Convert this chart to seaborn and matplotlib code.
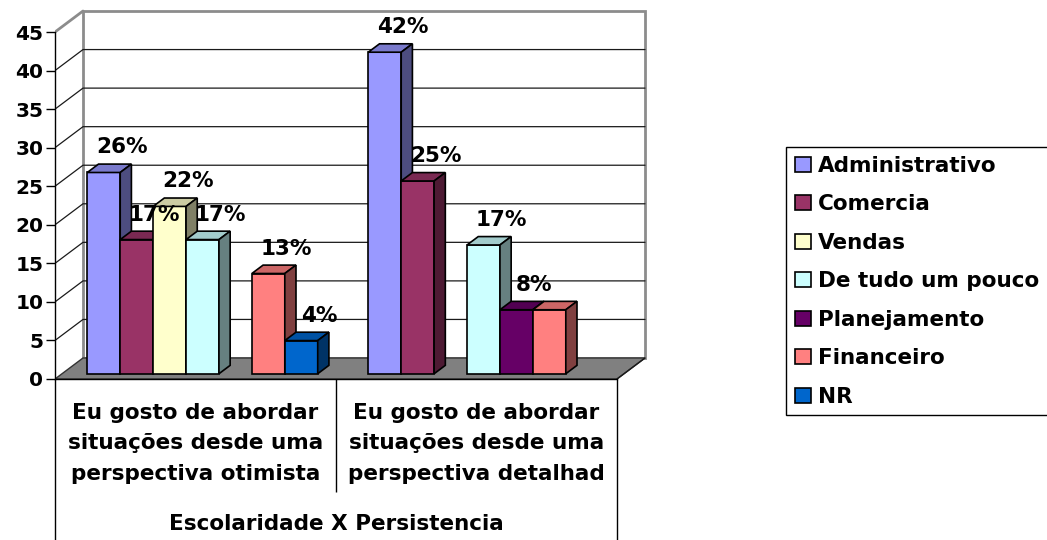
import numpy as np
import pandas as pd
import matplotlib
matplotlib.use("Agg")
import matplotlib.pyplot as plt
import seaborn as sns
from matplotlib.patches import Polygon

# ---------------- data ----------------
groups = [
    "Eu gosto de abordar\nsituações desde uma\nperspectiva otimista",
    "Eu gosto de abordar\nsituações desde uma\nperspectiva detalhad",
]
areas = ["Administrativo", "Comercia", "Vendas", "De tudo um pouco",
         "Planejamento", "Financeiro", "NR"]
values_otimista = [26.1, 17.4, 21.7, 17.4, 0.0, 13.0, 4.3]
values_detalhad = [41.7, 25.0, 0.0, 16.7, 8.3, 8.3, 0.0]
labels_otimista = ["26%", "17%", "22%", "17%", "", "13%", "4%"]
labels_detalhad = ["42%", "25%", "", "17%", "8%", "", ""]
colors = ["#9999FF", "#993366", "#FFFFCC", "#CCFFFF", "#660066", "#FF8080", "#0066CC"]
y_ticks = [0, 5, 10, 15, 20, 25, 30, 35, 40, 45]
axis_title = "Escolaridade X Persistencia"

rows = []
for g, vals, labs in [(groups[0], values_otimista, labels_otimista),
                      (groups[1], values_detalhad, labels_detalhad)]:
    for a, v, l in zip(areas, vals, labs):
        if v > 0:
            rows.append({"grupo": g, "area": a, "valor": v, "rotulo": l})
df = pd.DataFrame(rows)

# ---------------- layout constants ----------------
W, H, DPI = 1047, 540, 100
PX_X = 281.0      # pixels per category unit
PX_Y = 7.711      # pixels per value unit
AX_L, AX_R, AX_B, AX_T = 55, 655, 379, 5
DEPTH_PX = (28, 21)
DX = DEPTH_PX[0] / PX_X
DY = DEPTH_PX[1] / PX_Y
BAR_FRONT = 0.25   # depth fraction of bar front face
BAR_DEPTH = 0.40   # depth fraction of bar thickness
BAR_WIDTH = 0.82
FS = 15.5

sns.set_theme(style="white")
plt.rcParams["font.family"] = ["DejaVu Sans"]
plt.rcParams["font.weight"] = "bold"
for k in ["text.color", "axes.labelcolor", "xtick.color", "ytick.color",
          "xtick.labelcolor", "ytick.labelcolor"]:
    plt.rcParams[k] = "black"

fig = plt.figure(figsize=(W / DPI, H / DPI), dpi=DPI)
ax = fig.add_axes([AX_L / W, (H - AX_B) / H, (AX_R - AX_L) / W, (AX_B - AX_T) / H])
ax.set_facecolor("none")

n_groups = len(groups)
x0, x1 = -0.5, n_groups - 0.5
ymax = max(y_ticks)

# ---- walls ----
back = Polygon([(x0 + DX, DY), (x1 + DX, DY), (x1 + DX, ymax + DY), (x0 + DX, ymax + DY)],
               closed=True, facecolor="white", edgecolor="#8c8c8c", lw=2, zorder=0.5)
ax.add_patch(back)
left = Polygon([(x0, 0), (x0 + DX, DY), (x0 + DX, ymax + DY), (x0, ymax)],
               closed=True, facecolor="white", edgecolor="none", zorder=0.4)
ax.add_patch(left)
ax.plot([x0, x0 + DX], [ymax, ymax + DY], color="#8c8c8c", lw=2, zorder=0.6)
for v in y_ticks[1:-1]:
    ax.plot([x0, x0 + DX, x1 + DX], [v, v + DY, v + DY], color="#1a1a1a", lw=0.9, zorder=0.7)

# ---- floor ----
floor = Polygon([(x0, 0), (x1, 0), (x1 + DX, DY), (x0 + DX, DY)], closed=True,
                facecolor="#808080", edgecolor="#333333", lw=1, zorder=1)
ax.add_patch(floor)

# ---- bars ----
sns.barplot(data=df, x="grupo", y="valor", hue="area", hue_order=areas, order=groups,
            palette=colors, width=BAR_WIDTH, saturation=1, edgecolor="black",
            linewidth=1.2, ax=ax, legend=True)

ox, oy = BAR_FRONT * DX, BAR_FRONT * DY
bx, by = BAR_DEPTH * DX, BAR_DEPTH * DY
slot = BAR_WIDTH / len(areas)
bars = [p for p in ax.patches if p not in (back, left, floor) and p.get_height() > 0]
bars.sort(key=lambda p: p.get_x())
for i, p in enumerate(bars):
    x, w, h = p.get_x(), p.get_width(), p.get_height()
    cx = x + w / 2
    gi = int(round(cx))
    hi = int(round((cx - gi + BAR_WIDTH / 2) / slot - 0.5))
    base = np.array(matplotlib.colors.to_rgb(p.get_facecolor()))
    z = 2 + i * 0.01
    x += ox
    p.set_x(x)
    p.set_y(oy)
    p.set_zorder(z)
    top = oy + h
    ax.add_patch(Polygon([(x, top), (x + w, top), (x + w + bx, top + by), (x + bx, top + by)],
                         closed=True, facecolor=base * 0.8, edgecolor="black", lw=1.2, zorder=z))
    ax.add_patch(Polygon([(x + w, oy), (x + w, top), (x + w + bx, top + by), (x + w + bx, oy + by)],
                         closed=True, facecolor=base * 0.5, edgecolor="black", lw=1.2, zorder=z))
    sel = df[(df["grupo"] == groups[gi]) & (df["area"] == areas[hi])]
    lab = sel["rotulo"].iloc[0] if len(sel) else ""
    if lab:
        ax.annotate(lab, xy=(x + w / 2, top), xytext=(13, 18), textcoords="offset points",
                    ha="center", va="center", fontsize=FS, fontweight="bold",
                    color="black", zorder=10, annotation_clip=False)

# ---- axes ----
ax.set_xlim(x0, x0 + (AX_R - AX_L) / PX_X)
ax.set_ylim(0, (AX_B - AX_T) / PX_Y)
for s in ["top", "right"]:
    ax.spines[s].set_visible(False)
ax.spines["left"].set_bounds(0, ymax)
ax.spines["bottom"].set_bounds(x0, x1)
for s in ["left", "bottom"]:
    ax.spines[s].set_color("black")
    ax.spines[s].set_linewidth(1)
    ax.spines[s].set_zorder(3)
ax.plot([x1, x1 + DX], [0, DY], color="#1a1a1a", lw=1, zorder=3)

ax.set_yticks(y_ticks)
ax.set_yticklabels([str(t) for t in y_ticks])
ax.tick_params(axis="y", left=True, length=6.5, width=1, color="black", pad=2,
               labelsize=14.5, labelcolor="black")
ax.set_xticks(range(n_groups))
ax.set_xticklabels(groups, fontsize=FS, fontweight="bold")
for t in ax.get_xticklabels():
    t.set_linespacing(1.68)
ax.tick_params(axis="x", bottom=False, length=0, pad=17, labelcolor="black")
ax.set_ylabel("")
ax.set_xlabel(axis_title, fontsize=FS, fontweight="bold", va="center", color="black")
ax_h = AX_B - AX_T
ax.xaxis.set_label_coords(0.5 * ((x1 - x0) * PX_X) / (AX_R - AX_L), -(524 - AX_B) / ax_h)

bounds = np.arange(n_groups + 1) - 0.5
ax.vlines([bounds[0], bounds[-1]], -(H - AX_B) / ax_h, 0, transform=ax.get_xaxis_transform(),
          colors="black", lw=1, clip_on=False)
ax.vlines(bounds[1:-1], -(492 - AX_B) / ax_h, 0, transform=ax.get_xaxis_transform(),
          colors="black", lw=1, clip_on=False)

# ---- legend ----
sns.move_legend(ax, "upper left", bbox_to_anchor=(786 / W, 1 - 147 / H),
                bbox_transform=fig.transFigure, title=None, frameon=True, fancybox=False,
                framealpha=1, edgecolor="black", fontsize=FS, labelspacing=0.86,
                handlelength=0.75, handleheight=0.7, handletextpad=0.35,
                borderpad=0.4, borderaxespad=0)
leg = ax.get_legend()
leg.get_frame().set_linewidth(1)
for t in leg.get_texts():
    t.set_fontweight("bold")
    t.set_color("black")

fig.savefig("out.png", dpi=DPI)
